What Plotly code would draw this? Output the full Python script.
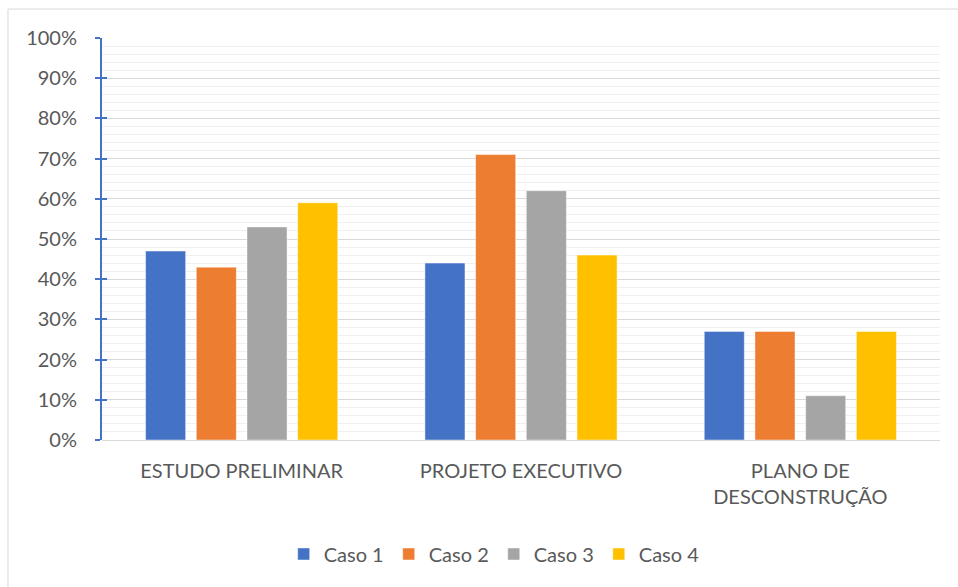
import plotly.graph_objects as go

# Stages of the project and the share reported for each case
categories = ["ESTUDO PRELIMINAR", "PROJETO EXECUTIVO", "PLANO DE<br>DESCONSTRUÇÃO"]
series_names = ["Caso 1", "Caso 2", "Caso 3", "Caso 4"]
caso1 = [0.47, 0.44, 0.27]
caso2 = [0.43, 0.71, 0.27]
caso3 = [0.53, 0.62, 0.11]
caso4 = [0.59, 0.46, 0.27]
colors = ["#4472C4", "#ED7D31", "#A5A5A5", "#FFC000"]
y_ticks = [i / 10 for i in range(11)]

font_family = "Lato, 'Open Sans', sans-serif"
text_color = "#595959"
fs = 20

fig = go.Figure()
for name, vals, col in zip(series_names, [caso1, caso2, caso3, caso4], colors):
    fig.add_trace(go.Bar(
        x=categories, y=vals, name=name,
        marker=dict(color=col, line=dict(color="rgba(255,255,255,0.45)", width=1)),
        hovertemplate="%{x}: %{y:.0%}<extra>" + name + "</extra>",
    ))

# invisible trace to carry the inward tick marks on the value axis
fig.add_trace(go.Scatter(x=[categories[0]], y=[0], yaxis="y2", mode="markers",
                         marker=dict(opacity=0), showlegend=False, hoverinfo="skip"))

fig.update_layout(
    width=958, height=587,
    margin=dict(l=102, r=18, t=38, b=147),
    paper_bgcolor="white", plot_bgcolor="white",
    barmode="group", bargap=0.274, bargroupgap=0.21,
    font=dict(family=font_family, color=text_color, size=fs),
    xaxis=dict(
        tickfont=dict(size=fs, color=text_color),
        showgrid=False, showline=False, ticks="",
        ticklabelstandoff=17,
    ),
    yaxis=dict(
        range=[0, 1], tickvals=y_ticks, tickformat=".0%",
        tickfont=dict(size=fs, color=text_color),
        showgrid=True, gridcolor="#D9D9D9", gridwidth=1,
        minor=dict(dtick=0.02, showgrid=True, gridcolor="#F0F0F0", gridwidth=1),
        showline=True, linecolor="#4472C4", linewidth=2,
        ticks="outside", ticklen=5, tickcolor="#4472C4", tickwidth=2,
        ticklabelstandoff=14,
        zeroline=True, zerolinecolor="#D9D9D9", zerolinewidth=1,
        fixedrange=True,
    ),
    yaxis2=dict(
        overlaying="y", side="left", range=[0, 1], tickvals=y_ticks,
        showticklabels=False, showgrid=False, zeroline=False,
        ticks="inside", ticklen=5, tickcolor="#4472C4", tickwidth=2,
    ),
    legend=dict(
        orientation="h", x=0.468, xanchor="center", y=-0.235, yanchor="top",
        font=dict(size=fs, color=text_color), itemwidth=30,
        traceorder="normal",
    ),
    shapes=[dict(
        type="rect", xref="paper", yref="paper",
        x0=-0.1122, x1=1.2, y0=-0.6, y1=1.072,
        line=dict(color="#D9D9D9", width=1), fillcolor="rgba(0,0,0,0)", layer="below",
    )],
    showlegend=True,
)

fig.write_html("out.html")
